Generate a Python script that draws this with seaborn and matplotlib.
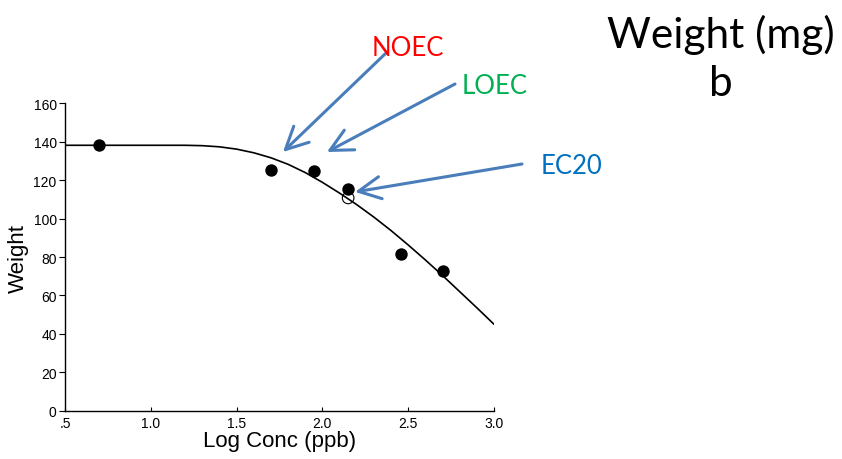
import matplotlib
matplotlib.use("Agg")
import matplotlib.pyplot as plt
import seaborn as sns
import pandas as pd

# observed responses (log concentration, weight)
obs_x = [0.7, 1.7, 1.95, 2.15, 2.46, 2.7]
obs_y = [138.5, 125.3, 124.8, 115.5, 81.5, 72.8]

# EC20 estimate (open circle)
ec20_x = [2.15]
ec20_y = [110.8]

# fitted curve
fit_x = [0.5, 1.2, 1.3, 1.4, 1.5, 1.6, 1.7, 1.8, 1.9, 2.0, 2.1, 2.2, 2.3,
         2.4, 2.5, 2.6, 2.7, 2.8, 2.9, 3.0]
fit_y = [138.2, 138.2, 138.0, 137.4, 136.2, 134.3, 131.7, 128.3, 124.0,
         118.9, 113.3, 107.3, 100.8, 93.8, 86.3, 78.5, 70.4, 62.0, 53.6, 45.0]

x_ticks = [0.5, 1.0, 1.5, 2.0, 2.5, 3.0]
x_ticklabels = [".5", "1.0", "1.5", "2.0", "2.5", "3.0"]
y_ticks = [0, 20, 40, 60, 80, 100, 120, 140, 160]

sns.set_theme(style="white")
plt.rcParams["font.family"] = ["Liberation Sans", "DejaVu Sans"]

fig = plt.figure(figsize=(8.42, 4.60), dpi=100)
ax = fig.add_axes([0.0772, 0.105, 0.5095, 0.668])

fit = pd.DataFrame({"x": fit_x, "y": fit_y})
sns.lineplot(data=fit, x="x", y="y", ax=ax, color="black", lw=1.2, sort=False)
sns.scatterplot(x=obs_x, y=obs_y, ax=ax, color="black", s=80, edgecolor="black",
                linewidth=0, zorder=3)
sns.scatterplot(x=ec20_x, y=ec20_y, ax=ax, facecolor="none", edgecolor="black",
                s=70, linewidth=0.8, zorder=3)

ax.set_xlim(0.5, 3.0)
ax.set_ylim(0, 160)
ax.set_xticks(x_ticks)
ax.set_xticklabels(x_ticklabels)
ax.set_yticks(y_ticks)
for s in ["top", "right"]:
    ax.spines[s].set_visible(False)
for s in ["left", "bottom"]:
    ax.spines[s].set_color("black")
    ax.spines[s].set_linewidth(1.0)
ax.tick_params(axis="y", direction="out", length=4, width=0.8, labelsize=10,
               left=True, pad=2, colors="black")
ax.tick_params(axis="x", direction="in", length=3, width=0.8, labelsize=10,
               bottom=True, pad=4, colors="black")
ax.set_xlabel("Log Conc (ppb)", fontsize=16, labelpad=0, color="black")
ax.set_ylabel("Weight", fontsize=16, labelpad=3, color="black")

# annotation arrows
arrow_col = "#4a7ebb"
aprops = dict(arrowstyle="->,head_length=0.8,head_width=0.4", color=arrow_col,
              lw=2.2, mutation_scale=20, shrinkA=0, shrinkB=0)
ax.annotate("", xy=(1.77, 134.7), xycoords="data",
            xytext=(385, 405), textcoords="figure pixels", arrowprops=aprops)
ax.annotate("", xy=(2.026, 134.7), xycoords="data",
            xytext=(455, 375), textcoords="figure pixels", arrowprops=aprops)
ax.annotate("", xy=(2.19, 113.9), xycoords="data",
            xytext=(522, 295), textcoords="figure pixels", arrowprops=aprops)

lab_font = ["Lato", "DejaVu Sans"]
fig.text(372 / 842, 1 - 49 / 460, "NOEC", color="#ff0000", fontsize=18.5,
         family=lab_font, va="center", ha="left")
fig.text(462 / 842, 1 - 87 / 460, "LOEC", color="#00b050", fontsize=18.5,
         family=lab_font, va="center", ha="left")
fig.text(541 / 842, 1 - 167 / 460, "EC20", color="#0070c0", fontsize=18.5,
         family=lab_font, va="center", ha="left")
fig.text(721 / 842, 1 - 35 / 460, "Weight (mg)", color="black", fontsize=30.5,
         family=lab_font, va="center", ha="center")
fig.text(721 / 842, 1 - 84 / 460, "b", color="black", fontsize=30.5,
         family=lab_font, va="center", ha="center")

fig.savefig("out.png", dpi=100)
